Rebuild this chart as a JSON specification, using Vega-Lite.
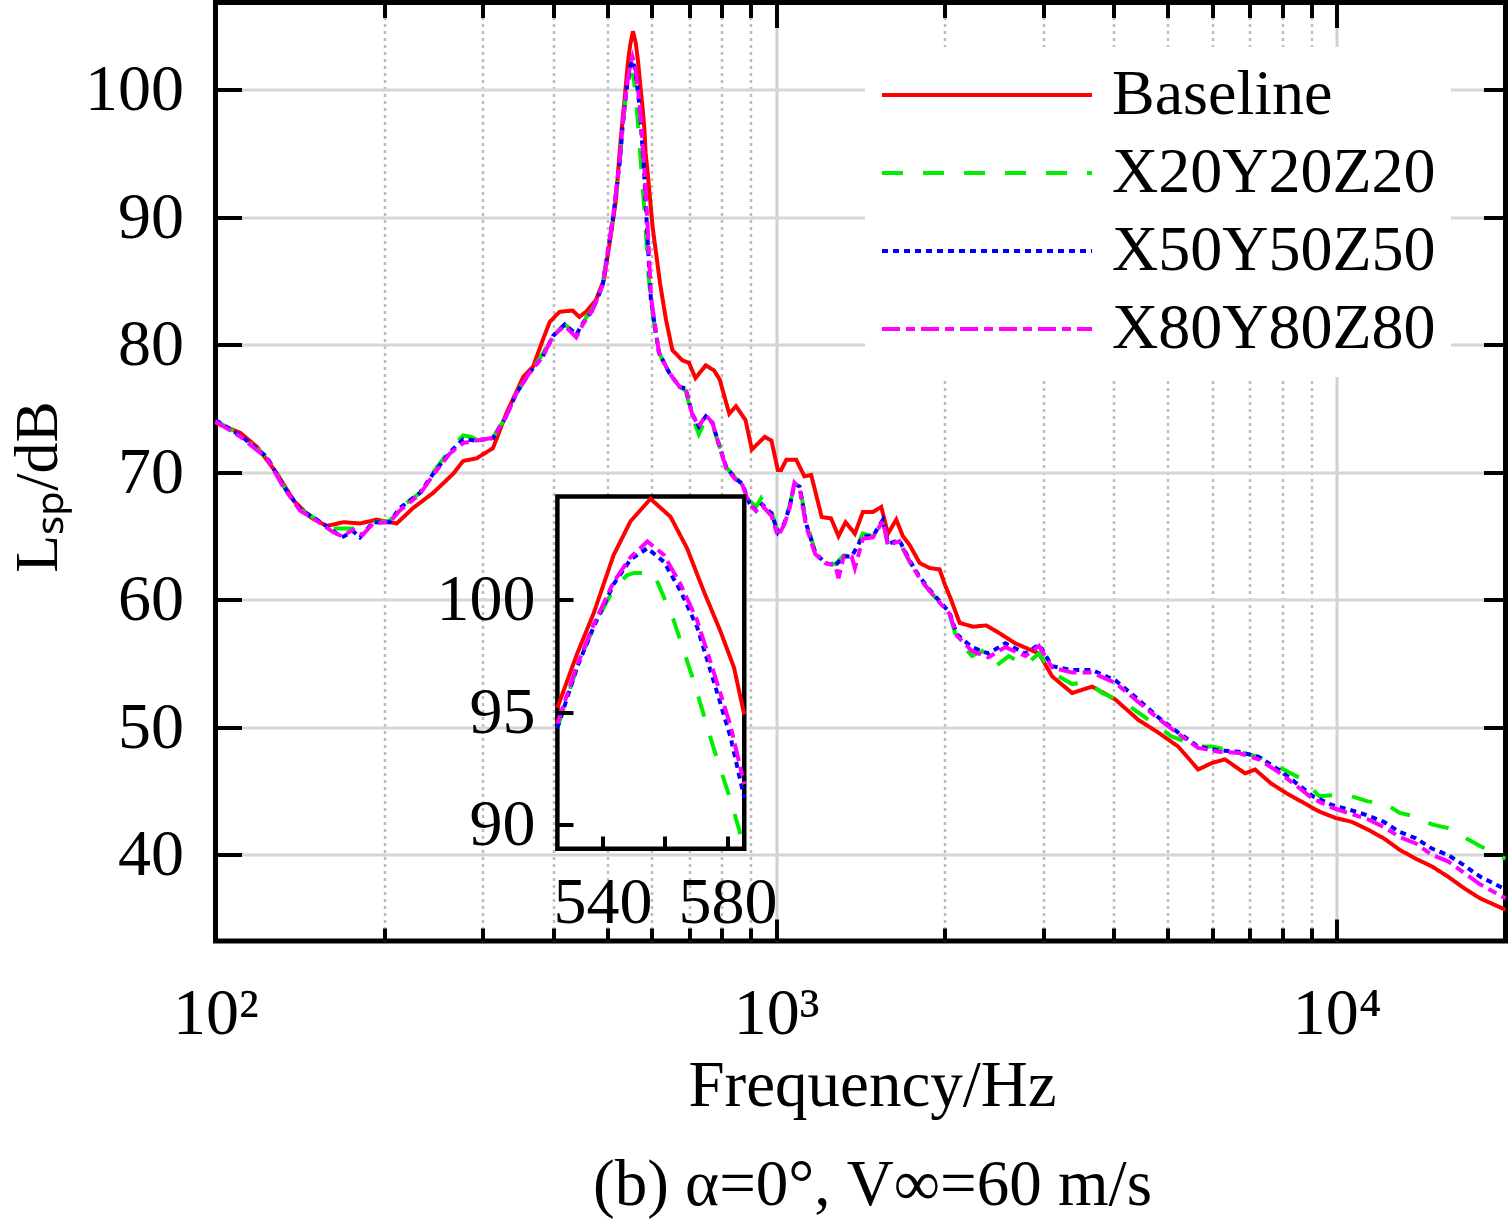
{
"$schema":"https://vega.github.io/schema/vega-lite/v6.json",
"autosize":{"type":"none"},
"width":1290,"height":938.5,
"padding":{"left":215.5,"top":2.5,"right":3.5,"bottom":288},
"background":"white",
"config":{
 "view":{"stroke":"black","strokeWidth":5},
 "axis":{"labelFont":"Liberation Serif","titleFont":"Liberation Serif","labelFontSize":66,"titleFontSize":65,"labelColor":"black","titleColor":"black","titleFontWeight":"normal","tickColor":"black","tickWidth":4,"domain":false,"labelFlush":false,"labelOverlap":false},
 "legend":{"labelFont":"Liberation Serif"}
},
"resolve":{"scale":{"x":"independent","y":"independent"}},
"layer":[
 {
  "data":{"values":[
{"s":"Baseline","f":100,"L":73.9},{"s":"Baseline","f":110.8,"L":73.1},{"s":"Baseline","f":118.6,"L":72.0},{"s":"Baseline","f":128.8,"L":69.9},{"s":"Baseline","f":137.8,"L":67.8},{"s":"Baseline","f":147.6,"L":66.5},{"s":"Baseline","f":158,"L":65.8},{"s":"Baseline","f":169,"L":66.1},{"s":"Baseline","f":181,"L":66.0},{"s":"Baseline","f":194,"L":66.3},{"s":"Baseline","f":210.5,"L":66.0},{"s":"Baseline","f":225,"L":67.2},{"s":"Baseline","f":244.5,"L":68.4},{"s":"Baseline","f":265.5,"L":69.9},{"s":"Baseline","f":276.5,"L":70.9},{"s":"Baseline","f":292,"L":71.1},{"s":"Baseline","f":312.5,"L":71.9},{"s":"Baseline","f":330,"L":74.6},{"s":"Baseline","f":354,"L":77.5},{"s":"Baseline","f":368.5,"L":78.3},{"s":"Baseline","f":383.6,"L":80.4},{"s":"Baseline","f":394.6,"L":81.8},{"s":"Baseline","f":410.8,"L":82.6},{"s":"Baseline","f":433.5,"L":82.7},{"s":"Baseline","f":445.6,"L":82.2},{"s":"Baseline","f":458,"L":82.6},{"s":"Baseline","f":476.8,"L":83.5},{"s":"Baseline","f":493,"L":85.1},{"s":"Baseline","f":508,"L":88.8},{"s":"Baseline","f":518,"L":91.4},{"s":"Baseline","f":526,"L":95.2},{"s":"Baseline","f":532,"L":97.6},{"s":"Baseline","f":537,"L":99.4},{"s":"Baseline","f":543.6,"L":102.0},{"s":"Baseline","f":549,"L":103.5},{"s":"Baseline","f":555.4,"L":104.6},{"s":"Baseline","f":561.8,"L":103.7},{"s":"Baseline","f":567,"L":102.3},{"s":"Baseline","f":572.4,"L":100.4},{"s":"Baseline","f":577.8,"L":98.6},{"s":"Baseline","f":582,"L":97.0},{"s":"Baseline","f":585,"L":95.1},{"s":"Baseline","f":590,"L":93.5},{"s":"Baseline","f":602,"L":89.3},{"s":"Baseline","f":621,"L":84.8},{"s":"Baseline","f":636,"L":82.0},{"s":"Baseline","f":653,"L":79.6},{"s":"Baseline","f":680,"L":78.8},{"s":"Baseline","f":699,"L":78.6},{"s":"Baseline","f":718,"L":77.4},{"s":"Baseline","f":749,"L":78.4},{"s":"Baseline","f":775,"L":78.0},{"s":"Baseline","f":793,"L":77.3},{"s":"Baseline","f":825,"L":74.6},{"s":"Baseline","f":848,"L":75.2},{"s":"Baseline","f":882,"L":74.1},{"s":"Baseline","f":905,"L":71.8},{"s":"Baseline","f":955,"L":72.8},{"s":"Baseline","f":981,"L":72.5},{"s":"Baseline","f":1007,"L":70.2},{"s":"Baseline","f":1021,"L":70.2},{"s":"Baseline","f":1043,"L":71.0},{"s":"Baseline","f":1086,"L":71.0},{"s":"Baseline","f":1123,"L":69.7},{"s":"Baseline","f":1155,"L":69.8},{"s":"Baseline","f":1206,"L":66.5},{"s":"Baseline","f":1253,"L":66.4},{"s":"Baseline","f":1292,"L":65.0},{"s":"Baseline","f":1330,"L":66.1},{"s":"Baseline","f":1382,"L":65.2},{"s":"Baseline","f":1428,"L":66.9},{"s":"Baseline","f":1488,"L":66.9},{"s":"Baseline","f":1540,"L":67.3},{"s":"Baseline","f":1583,"L":65.2},{"s":"Baseline","f":1638,"L":66.3},{"s":"Baseline","f":1683,"L":65.0},{"s":"Baseline","f":1731,"L":64.3},{"s":"Baseline","f":1803,"L":62.9},{"s":"Baseline","f":1879,"L":62.5},{"s":"Baseline","f":1957,"L":62.4},{"s":"Baseline","f":2000,"L":61.2},{"s":"Baseline","f":2040,"L":60.3},{"s":"Baseline","f":2125,"L":58.2},{"s":"Baseline","f":2245,"L":57.9},{"s":"Baseline","f":2370,"L":58.0},{"s":"Baseline","f":2500,"L":57.4},{"s":"Baseline","f":2670,"L":56.6},{"s":"Baseline","f":2943,"L":55.8},{"s":"Baseline","f":3108,"L":54.0},{"s":"Baseline","f":3373,"L":52.7},{"s":"Baseline","f":3661,"L":53.2},{"s":"Baseline","f":4026,"L":52.2},{"s":"Baseline","f":4425,"L":50.6},{"s":"Baseline","f":4804,"L":49.6},{"s":"Baseline","f":5215,"L":48.5},{"s":"Baseline","f":5661,"L":46.7},{"s":"Baseline","f":5980,"L":47.2},{"s":"Baseline","f":6318,"L":47.5},{"s":"Baseline","f":6860,"L":46.4},{"s":"Baseline","f":7150,"L":46.7},{"s":"Baseline","f":7640,"L":45.6},{"s":"Baseline","f":8160,"L":44.8},{"s":"Baseline","f":8720,"L":44.1},{"s":"Baseline","f":9310,"L":43.4},{"s":"Baseline","f":9950,"L":42.9},{"s":"Baseline","f":10630,"L":42.6},{"s":"Baseline","f":11350,"L":42.0},{"s":"Baseline","f":12130,"L":41.3},{"s":"Baseline","f":12950,"L":40.4},{"s":"Baseline","f":13840,"L":39.7},{"s":"Baseline","f":14780,"L":39.1},{"s":"Baseline","f":15790,"L":38.3},{"s":"Baseline","f":16860,"L":37.4},{"s":"Baseline","f":18010,"L":36.6},{"s":"Baseline","f":20000,"L":35.7},
{"s":"X20Y20Z20","f":100,"L":74.1},{"s":"X20Y20Z20","f":110.8,"L":72.9},{"s":"X20Y20Z20","f":123.6,"L":71.2},{"s":"X20Y20Z20","f":132.3,"L":68.9},{"s":"X20Y20Z20","f":141.6,"L":67.1},{"s":"X20Y20Z20","f":151.6,"L":66.3},{"s":"X20Y20Z20","f":162.4,"L":65.6},{"s":"X20Y20Z20","f":176,"L":65.6},{"s":"X20Y20Z20","f":191,"L":66.1},{"s":"X20Y20Z20","f":204.5,"L":66.2},{"s":"X20Y20Z20","f":213,"L":67.2},{"s":"X20Y20Z20","f":231.6,"L":68.4},{"s":"X20Y20Z20","f":244.5,"L":70.0},{"s":"X20Y20Z20","f":262,"L":71.8},{"s":"X20Y20Z20","f":276.5,"L":72.9},{"s":"X20Y20Z20","f":285,"L":72.8},{"s":"X20Y20Z20","f":298,"L":72.4},{"s":"X20Y20Z20","f":312.5,"L":72.7},{"s":"X20Y20Z20","f":330,"L":74.4},{"s":"X20Y20Z20","f":344,"L":76.2},{"s":"X20Y20Z20","f":363,"L":77.8},{"s":"X20Y20Z20","f":383.6,"L":79.3},{"s":"X20Y20Z20","f":400,"L":80.8},{"s":"X20Y20Z20","f":419.6,"L":81.6},{"s":"X20Y20Z20","f":440,"L":80.9},{"s":"X20Y20Z20","f":452,"L":81.8},{"s":"X20Y20Z20","f":470,"L":82.8},{"s":"X20Y20Z20","f":490,"L":84.6},{"s":"X20Y20Z20","f":512,"L":90.0},{"s":"X20Y20Z20","f":526,"L":94.3},{"s":"X20Y20Z20","f":532,"L":97.0},{"s":"X20Y20Z20","f":537,"L":98.8},{"s":"X20Y20Z20","f":543.6,"L":100.5},{"s":"X20Y20Z20","f":548,"L":101.1},{"s":"X20Y20Z20","f":550,"L":101.2},{"s":"X20Y20Z20","f":556.4,"L":101.2},{"s":"X20Y20Z20","f":562.8,"L":99.1},{"s":"X20Y20Z20","f":569.2,"L":96.4},{"s":"X20Y20Z20","f":575.6,"L":93.4},{"s":"X20Y20Z20","f":581,"L":91.1},{"s":"X20Y20Z20","f":585,"L":89.2},{"s":"X20Y20Z20","f":592,"L":85.5},{"s":"X20Y20Z20","f":600,"L":82.8},{"s":"X20Y20Z20","f":618,"L":79.4},{"s":"X20Y20Z20","f":645,"L":77.8},{"s":"X20Y20Z20","f":673,"L":76.7},{"s":"X20Y20Z20","f":690,"L":76.4},{"s":"X20Y20Z20","f":708,"L":74.4},{"s":"X20Y20Z20","f":728,"L":73.0},{"s":"X20Y20Z20","f":749,"L":74.2},{"s":"X20Y20Z20","f":770,"L":73.7},{"s":"X20Y20Z20","f":793,"L":72.0},{"s":"X20Y20Z20","f":815,"L":70.4},{"s":"X20Y20Z20","f":848,"L":69.5},{"s":"X20Y20Z20","f":871,"L":69.1},{"s":"X20Y20Z20","f":896,"L":67.8},{"s":"X20Y20Z20","f":921,"L":67.3},{"s":"X20Y20Z20","f":944,"L":68.1},{"s":"X20Y20Z20","f":960,"L":68.1},{"s":"X20Y20Z20","f":981,"L":66.9},{"s":"X20Y20Z20","f":1007,"L":65.4},{"s":"X20Y20Z20","f":1034,"L":66.1},{"s":"X20Y20Z20","f":1057,"L":67.4},{"s":"X20Y20Z20","f":1078,"L":69.1},{"s":"X20Y20Z20","f":1101,"L":68.9},{"s":"X20Y20Z20","f":1131,"L":66.2},{"s":"X20Y20Z20","f":1174,"L":63.8},{"s":"X20Y20Z20","f":1223,"L":63.0},{"s":"X20Y20Z20","f":1275,"L":62.8},{"s":"X20Y20Z20","f":1320,"L":63.5},{"s":"X20Y20Z20","f":1364,"L":63.4},{"s":"X20Y20Z20","f":1428,"L":65.2},{"s":"X20Y20Z20","f":1488,"L":65.0},{"s":"X20Y20Z20","f":1551,"L":66.2},{"s":"X20Y20Z20","f":1583,"L":64.3},{"s":"X20Y20Z20","f":1658,"L":64.6},{"s":"X20Y20Z20","f":1731,"L":63.0},{"s":"X20Y20Z20","f":1803,"L":61.7},{"s":"X20Y20Z20","f":1879,"L":60.7},{"s":"X20Y20Z20","f":1957,"L":59.8},{"s":"X20Y20Z20","f":2040,"L":58.8},{"s":"X20Y20Z20","f":2100,"L":57.0},{"s":"X20Y20Z20","f":2235,"L":55.6},{"s":"X20Y20Z20","f":2330,"L":56.0},{"s":"X20Y20Z20","f":2462,"L":54.8},{"s":"X20Y20Z20","f":2600,"L":55.6},{"s":"X20Y20Z20","f":2784,"L":54.9},{"s":"X20Y20Z20","f":2943,"L":55.8},{"s":"X20Y20Z20","f":3108,"L":54.3},{"s":"X20Y20Z20","f":3373,"L":53.4},{"s":"X20Y20Z20","f":3600,"L":53.6},{"s":"X20Y20Z20","f":3815,"L":52.7},{"s":"X20Y20Z20","f":4195,"L":51.9},{"s":"X20Y20Z20","f":4550,"L":50.8},{"s":"X20Y20Z20","f":5074,"L":49.3},{"s":"X20Y20Z20","f":5661,"L":48.5},{"s":"X20Y20Z20","f":5980,"L":48.5},{"s":"X20Y20Z20","f":6680,"L":48.1},{"s":"X20Y20Z20","f":7250,"L":47.7},{"s":"X20Y20Z20","f":7640,"L":47.2},{"s":"X20Y20Z20","f":8720,"L":45.9},{"s":"X20Y20Z20","f":9310,"L":44.6},{"s":"X20Y20Z20","f":9950,"L":44.7},{"s":"X20Y20Z20","f":10630,"L":44.6},{"s":"X20Y20Z20","f":11350,"L":44.2},{"s":"X20Y20Z20","f":12130,"L":44.1},{"s":"X20Y20Z20","f":12950,"L":43.3},{"s":"X20Y20Z20","f":13840,"L":43.0},{"s":"X20Y20Z20","f":14780,"L":42.4},{"s":"X20Y20Z20","f":15790,"L":42.1},{"s":"X20Y20Z20","f":16860,"L":41.4},{"s":"X20Y20Z20","f":18010,"L":40.7},{"s":"X20Y20Z20","f":20000,"L":39.7},
{"s":"X50Y50Z50","f":100,"L":74.1},{"s":"X50Y50Z50","f":110.8,"L":72.9},{"s":"X50Y50Z50","f":123.6,"L":71.2},{"s":"X50Y50Z50","f":132.3,"L":68.9},{"s":"X50Y50Z50","f":141.6,"L":67.1},{"s":"X50Y50Z50","f":151.6,"L":66.3},{"s":"X50Y50Z50","f":162.4,"L":65.4},{"s":"X50Y50Z50","f":168,"L":64.9},{"s":"X50Y50Z50","f":176,"L":65.4},{"s":"X50Y50Z50","f":181,"L":64.9},{"s":"X50Y50Z50","f":191,"L":66.1},{"s":"X50Y50Z50","f":204.5,"L":66.1},{"s":"X50Y50Z50","f":213,"L":67.2},{"s":"X50Y50Z50","f":231.6,"L":68.4},{"s":"X50Y50Z50","f":244.5,"L":69.9},{"s":"X50Y50Z50","f":262,"L":71.6},{"s":"X50Y50Z50","f":276.5,"L":72.6},{"s":"X50Y50Z50","f":292,"L":72.5},{"s":"X50Y50Z50","f":312.5,"L":72.7},{"s":"X50Y50Z50","f":330,"L":74.4},{"s":"X50Y50Z50","f":344,"L":76.2},{"s":"X50Y50Z50","f":363,"L":77.8},{"s":"X50Y50Z50","f":383.6,"L":79.1},{"s":"X50Y50Z50","f":400,"L":80.7},{"s":"X50Y50Z50","f":419.6,"L":81.6},{"s":"X50Y50Z50","f":440,"L":80.8},{"s":"X50Y50Z50","f":452,"L":81.7},{"s":"X50Y50Z50","f":470,"L":82.7},{"s":"X50Y50Z50","f":490,"L":84.6},{"s":"X50Y50Z50","f":512,"L":90.0},{"s":"X50Y50Z50","f":526,"L":94.3},{"s":"X50Y50Z50","f":532,"L":97.0},{"s":"X50Y50Z50","f":537,"L":98.8},{"s":"X50Y50Z50","f":543.6,"L":100.7},{"s":"X50Y50Z50","f":549,"L":101.8},{"s":"X50Y50Z50","f":554.4,"L":102.3},{"s":"X50Y50Z50","f":559.7,"L":101.7},{"s":"X50Y50Z50","f":565,"L":100.4},{"s":"X50Y50Z50","f":570.3,"L":98.8},{"s":"X50Y50Z50","f":575.6,"L":96.4},{"s":"X50Y50Z50","f":581,"L":93.9},{"s":"X50Y50Z50","f":589,"L":88.8},{"s":"X50Y50Z50","f":598,"L":83.5},{"s":"X50Y50Z50","f":618,"L":79.4},{"s":"X50Y50Z50","f":645,"L":77.8},{"s":"X50Y50Z50","f":673,"L":76.7},{"s":"X50Y50Z50","f":690,"L":76.6},{"s":"X50Y50Z50","f":708,"L":74.6},{"s":"X50Y50Z50","f":728,"L":73.6},{"s":"X50Y50Z50","f":749,"L":74.4},{"s":"X50Y50Z50","f":770,"L":73.9},{"s":"X50Y50Z50","f":793,"L":72.0},{"s":"X50Y50Z50","f":815,"L":70.4},{"s":"X50Y50Z50","f":848,"L":69.5},{"s":"X50Y50Z50","f":871,"L":69.1},{"s":"X50Y50Z50","f":896,"L":67.6},{"s":"X50Y50Z50","f":921,"L":67.0},{"s":"X50Y50Z50","f":944,"L":67.5},{"s":"X50Y50Z50","f":981,"L":66.8},{"s":"X50Y50Z50","f":1007,"L":65.3},{"s":"X50Y50Z50","f":1034,"L":66.0},{"s":"X50Y50Z50","f":1057,"L":67.3},{"s":"X50Y50Z50","f":1078,"L":69.1},{"s":"X50Y50Z50","f":1101,"L":68.9},{"s":"X50Y50Z50","f":1131,"L":66.0},{"s":"X50Y50Z50","f":1174,"L":63.7},{"s":"X50Y50Z50","f":1223,"L":62.9},{"s":"X50Y50Z50","f":1275,"L":62.7},{"s":"X50Y50Z50","f":1320,"L":63.4},{"s":"X50Y50Z50","f":1364,"L":63.4},{"s":"X50Y50Z50","f":1428,"L":65.0},{"s":"X50Y50Z50","f":1488,"L":65.0},{"s":"X50Y50Z50","f":1551,"L":66.3},{"s":"X50Y50Z50","f":1583,"L":64.4},{"s":"X50Y50Z50","f":1658,"L":64.7},{"s":"X50Y50Z50","f":1731,"L":63.1},{"s":"X50Y50Z50","f":1803,"L":61.8},{"s":"X50Y50Z50","f":1879,"L":60.8},{"s":"X50Y50Z50","f":1957,"L":59.9},{"s":"X50Y50Z50","f":2040,"L":59.0},{"s":"X50Y50Z50","f":2100,"L":57.3},{"s":"X50Y50Z50","f":2235,"L":56.3},{"s":"X50Y50Z50","f":2392,"L":55.8},{"s":"X50Y50Z50","f":2564,"L":56.6},{"s":"X50Y50Z50","f":2784,"L":55.8},{"s":"X50Y50Z50","f":2943,"L":56.5},{"s":"X50Y50Z50","f":3108,"L":54.8},{"s":"X50Y50Z50","f":3373,"L":54.5},{"s":"X50Y50Z50","f":3661,"L":54.5},{"s":"X50Y50Z50","f":4026,"L":53.7},{"s":"X50Y50Z50","f":4425,"L":52.2},{"s":"X50Y50Z50","f":4804,"L":50.8},{"s":"X50Y50Z50","f":5215,"L":49.6},{"s":"X50Y50Z50","f":5661,"L":48.5},{"s":"X50Y50Z50","f":6150,"L":48.2},{"s":"X50Y50Z50","f":6680,"L":48.1},{"s":"X50Y50Z50","f":7250,"L":47.7},{"s":"X50Y50Z50","f":7876,"L":46.7},{"s":"X50Y50Z50","f":8490,"L":45.6},{"s":"X50Y50Z50","f":9070,"L":44.6},{"s":"X50Y50Z50","f":9830,"L":43.9},{"s":"X50Y50Z50","f":10630,"L":43.5},{"s":"X50Y50Z50","f":11350,"L":43.1},{"s":"X50Y50Z50","f":12130,"L":42.6},{"s":"X50Y50Z50","f":12950,"L":41.8},{"s":"X50Y50Z50","f":13840,"L":41.3},{"s":"X50Y50Z50","f":14780,"L":40.5},{"s":"X50Y50Z50","f":15790,"L":40.0},{"s":"X50Y50Z50","f":16860,"L":39.2},{"s":"X50Y50Z50","f":18010,"L":38.3},{"s":"X50Y50Z50","f":20000,"L":37.3},
{"s":"X80Y80Z80","f":100,"L":74.0},{"s":"X80Y80Z80","f":110.8,"L":72.8},{"s":"X80Y80Z80","f":123.6,"L":71.1},{"s":"X80Y80Z80","f":132.3,"L":68.8},{"s":"X80Y80Z80","f":141.6,"L":67.0},{"s":"X80Y80Z80","f":151.6,"L":66.2},{"s":"X80Y80Z80","f":162.4,"L":65.3},{"s":"X80Y80Z80","f":168,"L":65.0},{"s":"X80Y80Z80","f":176,"L":65.5},{"s":"X80Y80Z80","f":183,"L":65.1},{"s":"X80Y80Z80","f":191,"L":66.0},{"s":"X80Y80Z80","f":204.5,"L":66.1},{"s":"X80Y80Z80","f":213,"L":67.0},{"s":"X80Y80Z80","f":231.6,"L":68.3},{"s":"X80Y80Z80","f":244.5,"L":69.8},{"s":"X80Y80Z80","f":262,"L":71.5},{"s":"X80Y80Z80","f":276.5,"L":72.3},{"s":"X80Y80Z80","f":292,"L":72.5},{"s":"X80Y80Z80","f":312.5,"L":72.7},{"s":"X80Y80Z80","f":330,"L":74.4},{"s":"X80Y80Z80","f":344,"L":76.2},{"s":"X80Y80Z80","f":363,"L":77.8},{"s":"X80Y80Z80","f":383.6,"L":79.1},{"s":"X80Y80Z80","f":400,"L":80.7},{"s":"X80Y80Z80","f":419.6,"L":81.5},{"s":"X80Y80Z80","f":440,"L":80.6},{"s":"X80Y80Z80","f":452,"L":81.6},{"s":"X80Y80Z80","f":470,"L":82.7},{"s":"X80Y80Z80","f":490,"L":84.6},{"s":"X80Y80Z80","f":512,"L":90.1},{"s":"X80Y80Z80","f":526,"L":94.5},{"s":"X80Y80Z80","f":532,"L":97.1},{"s":"X80Y80Z80","f":537,"L":98.9},{"s":"X80Y80Z80","f":543.6,"L":100.8},{"s":"X80Y80Z80","f":549,"L":101.9},{"s":"X80Y80Z80","f":554.4,"L":102.6},{"s":"X80Y80Z80","f":559.7,"L":102.0},{"s":"X80Y80Z80","f":565,"L":100.7},{"s":"X80Y80Z80","f":570.3,"L":99.1},{"s":"X80Y80Z80","f":575.6,"L":96.8},{"s":"X80Y80Z80","f":581,"L":94.4},{"s":"X80Y80Z80","f":590,"L":89.2},{"s":"X80Y80Z80","f":598,"L":83.8},{"s":"X80Y80Z80","f":618,"L":79.4},{"s":"X80Y80Z80","f":645,"L":77.8},{"s":"X80Y80Z80","f":673,"L":76.7},{"s":"X80Y80Z80","f":690,"L":76.6},{"s":"X80Y80Z80","f":708,"L":74.6},{"s":"X80Y80Z80","f":728,"L":73.6},{"s":"X80Y80Z80","f":749,"L":74.5},{"s":"X80Y80Z80","f":770,"L":73.9},{"s":"X80Y80Z80","f":793,"L":72.0},{"s":"X80Y80Z80","f":815,"L":70.3},{"s":"X80Y80Z80","f":848,"L":69.4},{"s":"X80Y80Z80","f":871,"L":69.0},{"s":"X80Y80Z80","f":896,"L":67.5},{"s":"X80Y80Z80","f":921,"L":67.0},{"s":"X80Y80Z80","f":944,"L":67.4},{"s":"X80Y80Z80","f":981,"L":66.6},{"s":"X80Y80Z80","f":1007,"L":65.0},{"s":"X80Y80Z80","f":1034,"L":65.9},{"s":"X80Y80Z80","f":1057,"L":67.2},{"s":"X80Y80Z80","f":1078,"L":69.2},{"s":"X80Y80Z80","f":1101,"L":68.8},{"s":"X80Y80Z80","f":1131,"L":65.8},{"s":"X80Y80Z80","f":1174,"L":63.6},{"s":"X80Y80Z80","f":1223,"L":62.9},{"s":"X80Y80Z80","f":1275,"L":62.7},{"s":"X80Y80Z80","f":1292,"L":61.7},{"s":"X80Y80Z80","f":1320,"L":63.4},{"s":"X80Y80Z80","f":1364,"L":63.4},{"s":"X80Y80Z80","f":1382,"L":62.5},{"s":"X80Y80Z80","f":1428,"L":64.8},{"s":"X80Y80Z80","f":1488,"L":64.9},{"s":"X80Y80Z80","f":1551,"L":66.2},{"s":"X80Y80Z80","f":1583,"L":64.3},{"s":"X80Y80Z80","f":1658,"L":64.6},{"s":"X80Y80Z80","f":1731,"L":63.0},{"s":"X80Y80Z80","f":1803,"L":61.7},{"s":"X80Y80Z80","f":1879,"L":60.7},{"s":"X80Y80Z80","f":1957,"L":59.8},{"s":"X80Y80Z80","f":2040,"L":58.9},{"s":"X80Y80Z80","f":2100,"L":57.2},{"s":"X80Y80Z80","f":2235,"L":56.0},{"s":"X80Y80Z80","f":2392,"L":55.5},{"s":"X80Y80Z80","f":2564,"L":56.3},{"s":"X80Y80Z80","f":2784,"L":55.6},{"s":"X80Y80Z80","f":2943,"L":56.4},{"s":"X80Y80Z80","f":3108,"L":54.7},{"s":"X80Y80Z80","f":3373,"L":54.3},{"s":"X80Y80Z80","f":3661,"L":54.3},{"s":"X80Y80Z80","f":4026,"L":53.5},{"s":"X80Y80Z80","f":4425,"L":52.0},{"s":"X80Y80Z80","f":4804,"L":50.7},{"s":"X80Y80Z80","f":5215,"L":49.5},{"s":"X80Y80Z80","f":5661,"L":48.4},{"s":"X80Y80Z80","f":6150,"L":48.1},{"s":"X80Y80Z80","f":6680,"L":48.0},{"s":"X80Y80Z80","f":7250,"L":47.5},{"s":"X80Y80Z80","f":7876,"L":46.5},{"s":"X80Y80Z80","f":8490,"L":45.4},{"s":"X80Y80Z80","f":9070,"L":44.4},{"s":"X80Y80Z80","f":9830,"L":43.7},{"s":"X80Y80Z80","f":10630,"L":43.2},{"s":"X80Y80Z80","f":11350,"L":42.8},{"s":"X80Y80Z80","f":12130,"L":42.2},{"s":"X80Y80Z80","f":12950,"L":41.4},{"s":"X80Y80Z80","f":13840,"L":40.9},{"s":"X80Y80Z80","f":14780,"L":40.0},{"s":"X80Y80Z80","f":15790,"L":39.5},{"s":"X80Y80Z80","f":16860,"L":38.6},{"s":"X80Y80Z80","f":18010,"L":37.7},{"s":"X80Y80Z80","f":20000,"L":36.6}
  ]},
  "resolve":{"axis":{"x":"independent","y":"independent"}},
  "layer":[
   {"mark":{"type":"line","strokeWidth":4},
    "encoding":{
     "x":{"field":"f","type":"quantitative","scale":{"type":"log","domain":[100,20000],"nice":false},
          "axis":{"orient":"bottom","values":[100,1000,10000],"labelExpr":"datum.value==100?'10²':datum.value==1000?'10³':'10⁴'","tickSize":-22,"labelPadding":114,"labelBaseline":"alphabetic","grid":false,"title":["Frequency/Hz","(b) α=0°, V∞=60 m/s"],"titleLineHeight":99,"titleX":656.5,"titleY":164,"titleBaseline":"alphabetic"}},
     "y":{"field":"L","type":"quantitative","scale":{"domain":[33.25,106.86],"nice":false,"zero":false},
          "axis":{"orient":"left","values":[40,50,60,70,80,90,100],"tickSize":-26,"labelPadding":58,"grid":true,"gridColor":"#d6d6d6","gridWidth":3,"title":"Lₛₚ/dB","titleFontSize":62,"titleX":-159.5,"titleY":484,"titleBaseline":"alphabetic","titleAngle":270}},
     "color":{"field":"s","type":"nominal","scale":{"domain":["Baseline","X20Y20Z20","X50Y50Z50","X80Y80Z80"],"range":["#ff0000","#00ee00","#0000ff","#ff00ff"]},
          "legend":{"orient":"none","legendX":649.5,"legendY":44.5,"title":null,"fillColor":"white","padding":15,"symbolType":"stroke","symbolSize":44100,"symbolStrokeWidth":4,"clipHeight":66,"rowPadding":12,"labelFontSize":64,"labelFont":"Liberation Serif","labelColor":"black","labelOffset":18,"labelLimit":800}},
     "strokeDash":{"field":"s","type":"nominal","scale":{"domain":["Baseline","X20Y20Z20","X50Y50Z50","X80Y80Z80"],"range":[[1,0],[21,20],[6,5],[18,6,9,6]]},
          "legend":{"orient":"none","legendX":649.5,"legendY":44.5,"title":null,"fillColor":"white","padding":15,"symbolType":"stroke","symbolSize":44100,"symbolStrokeWidth":4,"clipHeight":66,"rowPadding":12,"labelFontSize":64,"labelFont":"Liberation Serif","labelColor":"black","labelOffset":18,"labelLimit":800}}
    }},
   {"mark":{"type":"point","opacity":0},
    "encoding":{
     "x":{"field":"f","type":"quantitative","scale":{"type":"log","domain":[100,20000],"nice":false},
          "axis":{"orient":"bottom","values":[200,300,400,500,600,700,800,900,2000,3000,4000,5000,6000,7000,8000,9000],"labels":false,"tickSize":-13,"grid":true,"gridColor":"#bdbdbd","gridWidth":2.5,"gridDash":[3,4],"title":null}},
     "y":{"field":"L","type":"quantitative","scale":{"domain":[33.25,106.86],"nice":false,"zero":false},
          "axis":{"orient":"right","values":[40,50,60,70,80,90,100],"labels":false,"tickSize":-22,"grid":false,"title":null}}
    }},
   {"mark":{"type":"point","opacity":0},
    "encoding":{
     "x":{"field":"f","type":"quantitative","scale":{"type":"log","domain":[100,20000],"nice":false},
          "axis":{"orient":"top","values":[1000,10000],"labels":false,"tickSize":-25,"grid":true,"gridColor":"#d0d0d0","gridWidth":3,"title":null}},
     "y":{"field":"L","type":"quantitative","scale":{"domain":[33.25,106.86],"nice":false,"zero":false},"axis":null}
    }},
   {"mark":{"type":"point","opacity":0},
    "encoding":{
     "x":{"field":"f","type":"quantitative","scale":{"type":"log","domain":[100,20000],"nice":false},
          "axis":{"orient":"top","values":[200,300,400,500,600,700,800,900,2000,3000,4000,5000,6000,7000,8000,9000],"labels":false,"tickSize":-15,"grid":false,"title":null}},
     "y":{"field":"L","type":"quantitative","scale":{"domain":[33.25,106.86],"nice":false,"zero":false},"axis":null}
    }}
  ]
 },
 {
  "data":{"values":[
{"s":"Baseline","f":525.6,"L":95.2},{"s":"Baseline","f":531.9,"L":97.6},{"s":"Baseline","f":537.2,"L":99.4},{"s":"Baseline","f":543.6,"L":102.0},{"s":"Baseline","f":549,"L":103.5},{"s":"Baseline","f":555.4,"L":104.5},{"s":"Baseline","f":561.8,"L":103.7},{"s":"Baseline","f":567.1,"L":102.3},{"s":"Baseline","f":572.4,"L":100.4},{"s":"Baseline","f":577.8,"L":98.6},{"s":"Baseline","f":582.1,"L":97.0},{"s":"Baseline","f":585.4,"L":94.9},
{"s":"X20Y20Z20","f":525.6,"L":94.3},{"s":"X20Y20Z20","f":531.9,"L":97.0},{"s":"X20Y20Z20","f":537.2,"L":98.8},{"s":"X20Y20Z20","f":543.6,"L":100.5},{"s":"X20Y20Z20","f":547.9,"L":101.1},{"s":"X20Y20Z20","f":550.1,"L":101.2},{"s":"X20Y20Z20","f":556.4,"L":101.2},{"s":"X20Y20Z20","f":562.8,"L":99.1},{"s":"X20Y20Z20","f":569.2,"L":96.4},{"s":"X20Y20Z20","f":575.6,"L":93.4},{"s":"X20Y20Z20","f":581,"L":91.1},{"s":"X20Y20Z20","f":585.4,"L":89.0},
{"s":"X50Y50Z50","f":525.6,"L":94.3},{"s":"X50Y50Z50","f":531.9,"L":97.0},{"s":"X50Y50Z50","f":537.2,"L":98.8},{"s":"X50Y50Z50","f":543.6,"L":100.7},{"s":"X50Y50Z50","f":549,"L":101.8},{"s":"X50Y50Z50","f":554.4,"L":102.3},{"s":"X50Y50Z50","f":559.7,"L":101.7},{"s":"X50Y50Z50","f":565,"L":100.4},{"s":"X50Y50Z50","f":570.3,"L":98.8},{"s":"X50Y50Z50","f":575.6,"L":96.4},{"s":"X50Y50Z50","f":581,"L":93.9},{"s":"X50Y50Z50","f":585.4,"L":91.2},
{"s":"X80Y80Z80","f":525.6,"L":94.5},{"s":"X80Y80Z80","f":531.9,"L":97.1},{"s":"X80Y80Z80","f":537.2,"L":98.9},{"s":"X80Y80Z80","f":543.6,"L":100.8},{"s":"X80Y80Z80","f":549,"L":101.9},{"s":"X80Y80Z80","f":554.4,"L":102.6},{"s":"X80Y80Z80","f":559.7,"L":102.0},{"s":"X80Y80Z80","f":565,"L":100.7},{"s":"X80Y80Z80","f":570.3,"L":99.1},{"s":"X80Y80Z80","f":575.6,"L":96.8},{"s":"X80Y80Z80","f":581,"L":94.4},{"s":"X80Y80Z80","f":585.4,"L":91.8}
  ]},
  "layer":[
   {"data":{"values":[{"f":525.6,"f1":585.4,"L":88.93,"L1":104.6}]},
    "mark":{"type":"rect","fill":"white","stroke":"black","strokeWidth":4.5},
    "encoding":{
     "x":{"field":"f","type":"quantitative","scale":{"domain":[416.2,829],"nice":false,"zero":false},
          "axis":{"orient":"bottom","offset":-93,"values":[540,560,580],"labelExpr":"datum.value==560?'':datum.label","tickSize":-12,"labelPadding":86,"labelBaseline":"alphabetic","grid":false,"title":null,"zindex":1}},
     "x2":{"field":"f1"},
     "y":{"field":"L","type":"quantitative","scale":{"domain":[84.82,126.59],"nice":false,"zero":false},
          "axis":{"orient":"left","offset":-341.5,"values":[90,95,100],"tickSize":-16,"labelPadding":38,"grid":false,"title":null,"zindex":1}},
     "y2":{"field":"L1"}
    }},
   {"mark":{"type":"line","strokeWidth":4},
    "encoding":{
     "x":{"field":"f","type":"quantitative","scale":{"domain":[416.2,829],"nice":false,"zero":false},
          "axis":{"orient":"bottom","offset":-93,"values":[540,560,580],"labelExpr":"datum.value==560?'':datum.label","tickSize":-12,"labelPadding":86,"labelBaseline":"alphabetic","grid":false,"title":null,"zindex":1}},
     "y":{"field":"L","type":"quantitative","scale":{"domain":[84.82,126.59],"nice":false,"zero":false},
          "axis":{"orient":"left","offset":-341.5,"values":[90,95,100],"tickSize":-16,"labelPadding":38,"grid":false,"title":null,"zindex":1}},
     "color":{"field":"s","type":"nominal","legend":null},
     "strokeDash":{"field":"s","type":"nominal","legend":null}
    }}
  ]
 }
]
}
